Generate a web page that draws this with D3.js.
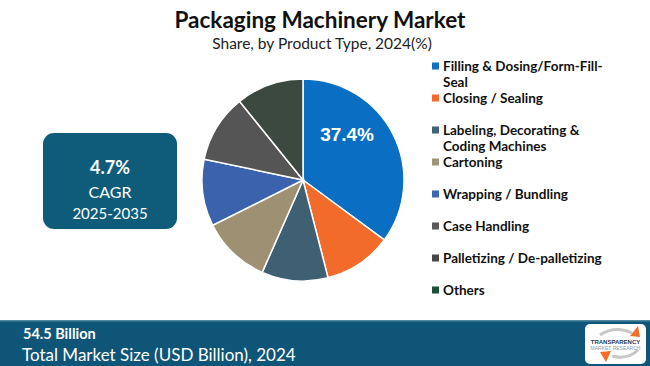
<!DOCTYPE html>
<html><head><meta charset="utf-8">
<script src="https://cdn.jsdelivr.net/npm/d3@7/dist/d3.min.js"></script>
<style>html,body{margin:0;padding:0;background:#fff;overflow:hidden}</style>
</head><body>
<svg id="c" width="650" height="366"></svg>
<script>
const categories = ["Filling & Dosing/Form-Fill-Seal","Closing / Sealing","Labeling, Decorating & Coding Machines","Cartoning","Wrapping / Bundling","Case Handling","Palletizing / De-palletizing","Others"];
const legendLines = [["Filling & Dosing/Form-Fill-","Seal"],["Closing / Sealing"],["Labeling, Decorating &","Coding Machines"],["Cartoning"],["Wrapping / Bundling"],["Case Handling"],["Palletizing / De-palletizing"],["Others"]];
const shares = [37.4, 11.6, 11.3, 11.7, 11.4, 11.6, 0, 11.5];
const shownLabels = ["37.4%", "", "", "", "", "", "", ""];
const cagr = "4.7%";
const cagrPeriod = "2025-2035";
const marketSize = "54.5 Billion";

const sliceColors = ["#0a6fc2","#f36b2a","#3f6073","#9e9173","#3b62ad","#555555","#474747","#3c4940"];
const legendColors = ["#1170c0","#f26a2e","#3d6478","#a09477","#3b67b0","#595959","#474747","#1d4f3a"];

const svg = d3.select("#c");
const titleFont = "Lato, 'Open Sans', sans-serif";

svg.append("text").attr("x",320).attr("y",28).attr("text-anchor","middle")
  .attr("font-family",titleFont).attr("font-weight","bold").attr("font-size",22.5).attr("fill","#111")
  .text("Packaging Machinery Market");
svg.append("text").attr("x",322).attr("y",49).attr("text-anchor","middle")
  .attr("font-family",titleFont).attr("font-size",15.5).attr("fill","#222")
  .text("Share, by Product Type, 2024(%)");

// Pie
const cx = 303, cy = 180, r = 101;
const pie = d3.pie().sort(null).value(d => d)(shares);
const arc = d3.arc().innerRadius(0).outerRadius(r);
const g = svg.append("g").attr("transform",`translate(${cx},${cy})`);
g.selectAll("path").data(pie.filter(d => d.data > 0)).join("path")
  .attr("d", arc).attr("fill", d => sliceColors[d.index])
  .attr("stroke","#fff").attr("stroke-width",1.5);
const labelArc = d3.arc().innerRadius(r*0.5).outerRadius(r*0.5);
g.selectAll("text.lbl").data(pie.filter(d => shownLabels[d.index])).join("text")
  .attr("class","lbl")
  .attr("transform", d => { const c = labelArc.centroid(d); return `translate(${c[0]-1},${c[1]-23})`; })
  .attr("text-anchor","middle").attr("dy","0.35em")
  .attr("font-family","'Liberation Sans', Arial, sans-serif").attr("font-weight","bold")
  .attr("font-size",19).attr("fill","#fff")
  .text(d => shownLabels[d.index]);

// Legend
const ly = d3.scalePoint().domain(categories).range([66, 290]);
const lg = svg.append("g");
categories.forEach((c,i) => {
  const y = ly(c);
  lg.append("rect").attr("x",432).attr("y",y-3.5).attr("width",7).attr("height",7).attr("fill",legendColors[i]);
  legendLines[i].forEach((t,j) => {
    lg.append("text").attr("x",443).attr("y",y + 4.5 + j*16)
      .attr("font-family",titleFont).attr("font-weight","bold").attr("font-size",13.5).attr("fill","#111")
      .text(t);
  });
});

// CAGR box
svg.append("rect").attr("x",43).attr("y",133).attr("width",134).attr("height",96).attr("rx",11)
  .attr("fill","#0f5b7a");
svg.append("text").attr("x",110).attr("y",174).attr("text-anchor","middle")
  .attr("font-family",titleFont).attr("font-weight","bold").attr("font-size",18).attr("fill","#fff").text(cagr);
svg.append("text").attr("x",110).attr("y",198).attr("text-anchor","middle")
  .attr("font-family",titleFont).attr("font-size",16).attr("fill","#fff").text("CAGR");
svg.append("text").attr("x",110).attr("y",219).attr("text-anchor","middle")
  .attr("font-family",titleFont).attr("font-size",15).attr("fill","#fff").text(cagrPeriod);

// Bottom bar
svg.append("rect").attr("x",0).attr("y",320).attr("width",650).attr("height",46).attr("fill","#0f5577");
svg.append("rect").attr("x",0).attr("y",320).attr("width",650).attr("height",1.5).attr("fill","#4f87a0");
svg.append("text").attr("x",23).attr("y",339).attr("font-family",titleFont).attr("font-weight","bold")
  .attr("font-size",14.5).attr("fill","#fff").text(marketSize);
svg.append("text").attr("x",22).attr("y",361).attr("font-family",titleFont)
  .attr("font-size",17).attr("fill","#fff").text("Total Market Size (USD Billion), 2024");

// Logo
const lgo = svg.append("g");
lgo.append("rect").attr("x",585).attr("y",324).attr("width",61).attr("height",40).attr("rx",5).attr("fill","#fff");
lgo.append("path").attr("d","M600,335 Q615,325 632,333").attr("fill","none").attr("stroke","#c8c8c8").attr("stroke-width",3);
lgo.append("path").attr("d","M630,336 L638,326 L640,337 Z").attr("fill","#f0702a");
lgo.append("path").attr("d","M600,352 L606,362 L611,351 Z").attr("fill","#f0702a");
lgo.append("path").attr("d","M612,356 Q628,360 638,350").attr("fill","none").attr("stroke","#c8c8c8").attr("stroke-width",3);
lgo.append("text").attr("x",615.5).attr("y",344).attr("text-anchor","middle").attr("font-family","'Liberation Sans', Arial, sans-serif")
  .attr("font-weight","bold").attr("font-size",6).attr("fill","#1d3a5a").text("TRANSPARENCY");
lgo.append("text").attr("x",615.5).attr("y",350).attr("text-anchor","middle").attr("font-family","'Liberation Sans', Arial, sans-serif")
  .attr("font-size",5).attr("fill","#8a9aa8").text("MARKET RESEARCH");
</script>
</body></html>
